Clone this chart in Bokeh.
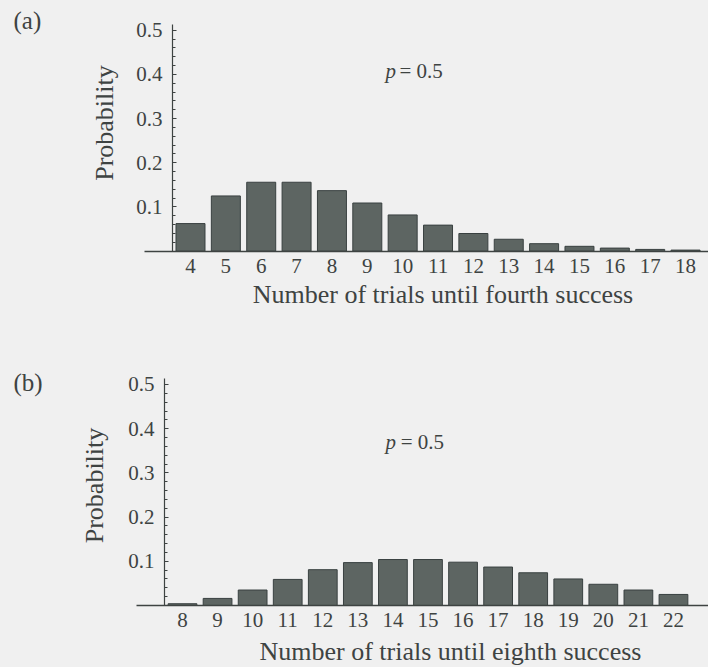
import math
from bokeh.plotting import figure
from bokeh.models import FixedTicker, Label, Range1d
from bokeh.layouts import column
from bokeh.embed import file_html
from bokeh.resources import INLINE

# ---- data ----
trials_a = [4, 5, 6, 7, 8, 9, 10, 11, 12, 13, 14, 15, 16, 17, 18]
prob_a = [0.0625, 0.125, 0.156, 0.156, 0.137, 0.109, 0.082, 0.059, 0.040,
          0.027, 0.017, 0.011, 0.007, 0.004, 0.0025]

trials_b = [8, 9, 10, 11, 12, 13, 14, 15, 16, 17, 18, 19, 20, 21, 22]
prob_b = [0.004, 0.016, 0.035, 0.059, 0.081, 0.097, 0.104, 0.104, 0.098,
          0.087, 0.074, 0.060, 0.048, 0.035, 0.025]

y_ticks = [0.1, 0.2, 0.3, 0.4, 0.5]
y_minor = [0.02, 0.04, 0.06, 0.08, 0.12, 0.14, 0.16, 0.18, 0.22, 0.24, 0.26, 0.28,
           0.32, 0.34, 0.36, 0.38, 0.42, 0.44, 0.46, 0.48]

panel_a = "(a)"
panel_b = "(b)"
xlabel_a = "Number of trials until fourth success"
xlabel_b = "Number of trials until eighth success"
ylabel = "Probability"
p_text = "p"
p_value = "= 0.5"

BG = "#f0f0f0"
INK = "#3e4342"
BAR_FILL = "#5d6562"
BAR_LINE = "#394040"
FONT = "Liberation Serif"


def make_panel(trials, probs, height, xr, yr, yaxis_at, xbounds, ybounds,
               panel, panel_xy, ylab_xy, xlabel, xlab_xy, p_xy, eq_x):
    p = figure(width=708, height=height, output_backend="svg", toolbar_location=None,
               x_range=Range1d(*xr), y_range=Range1d(*yr),
               min_border_left=0, min_border_right=0,
               min_border_top=0, min_border_bottom=0,
               background_fill_color=BG, border_fill_color=BG,
               outline_line_color=None)
    p.xgrid.visible = False
    p.ygrid.visible = False

    p.vbar(x=trials, top=probs, width=0.82, bottom=0,
           fill_color=BAR_FILL, line_color=BAR_LINE, line_width=1)

    # x axis (baseline)
    xa = p.xaxis[0]
    xa.fixed_location = 0
    xa.bounds = xbounds
    xa.ticker = FixedTicker(ticks=trials, minor_ticks=[])
    xa.major_tick_line_color = None
    xa.minor_tick_line_color = None
    xa.major_tick_out = 0
    xa.major_tick_in = 0
    xa.axis_line_color = INK
    xa.axis_line_width = 1.5
    xa.major_label_text_font = FONT
    xa.major_label_text_font_size = "21px"
    xa.major_label_text_color = INK
    xa.major_label_standoff = 8

    # y axis
    ya = p.yaxis[0]
    ya.fixed_location = yaxis_at
    ya.bounds = ybounds
    ya.ticker = FixedTicker(ticks=y_ticks, minor_ticks=y_minor)
    ya.axis_line_color = INK
    ya.axis_line_width = 1.2
    ya.major_tick_in = 4
    ya.major_tick_out = 0
    ya.minor_tick_in = 3
    ya.minor_tick_out = 0
    ya.major_tick_line_color = INK
    ya.minor_tick_line_color = INK
    ya.major_label_text_font = FONT
    ya.major_label_text_font_size = "21px"
    ya.major_label_text_color = INK
    ya.major_label_standoff = 10

    # axis titles and annotations
    p.add_layout(Label(x=ylab_xy[0], y=ylab_xy[1], text=ylabel, text_font=FONT,
                       text_font_size="26px", text_color=INK, angle=math.pi / 2,
                       text_align="center", text_baseline="middle"))
    p.add_layout(Label(x=xlab_xy[0], y=xlab_xy[1], text=xlabel, text_font=FONT,
                       text_font_size="26px", text_color=INK,
                       text_align="center", text_baseline="alphabetic"))
    p.add_layout(Label(x=panel_xy[0], y=panel_xy[1], text=panel, text_font=FONT,
                       text_font_size="25px", text_color=INK,
                       text_baseline="middle", text_align="left"))
    p.add_layout(Label(x=p_xy[0], y=p_xy[1], text=p_text, text_font=FONT,
                       text_font_style="italic", text_font_size="21px",
                       text_color=INK, text_baseline="alphabetic", text_align="left"))
    p.add_layout(Label(x=eq_x, y=p_xy[1], text=p_value, text_font=FONT,
                       text_font_size="21px", text_color=INK,
                       text_baseline="alphabetic", text_align="left"))
    return p


p1 = make_panel(trials_a, prob_a, height=318,
                xr=(-1.373, 18.649), yr=(-0.1523, 0.5672), yaxis_at=3.49,
                xbounds=(2.70, 18.65), ybounds=(0, 0.5136),
                panel=panel_a, panel_xy=(-1.006, 0.522),
                ylab_xy=(1.568, 0.290),
                xlabel=xlabel_a, xlab_xy=(11.14, -0.099),
                p_xy=(9.515, 0.407), eq_x=9.91)
p2 = make_panel(trials_b, prob_b, height=349,
                xr=(2.810, 22.999), yr=(-0.1403, 0.6493), yaxis_at=7.49,
                xbounds=(6.69, 23.0), ybounds=(0, 0.513),
                panel=panel_b, panel_xy=(3.181, 0.5045),
                ylab_xy=(5.491, 0.2715),
                xlabel=xlabel_b, xlab_xy=(15.64, -0.1045),
                p_xy=(13.79, 0.369), eq_x=14.22)

layout = column(p1, p2, spacing=0, background=BG)
open("out.html", "w").write(file_html(layout, INLINE))
